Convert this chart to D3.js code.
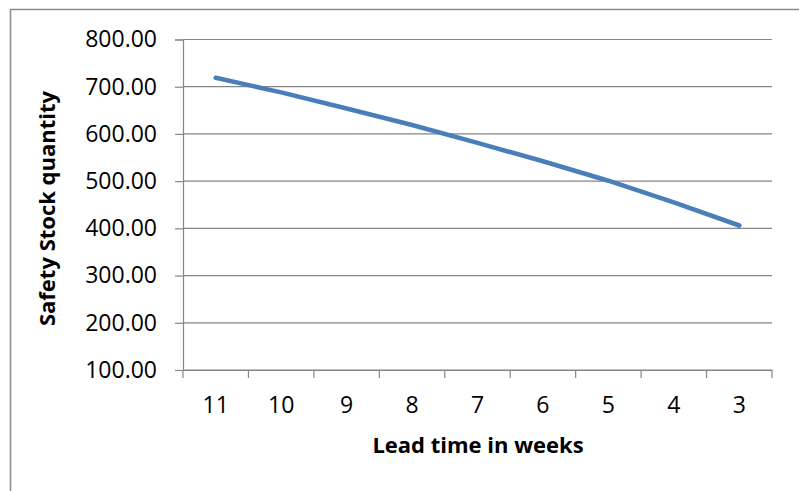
<!DOCTYPE html>
<html>
<head>
<meta charset="utf-8">
<script src="https://cdn.jsdelivr.net/npm/d3@7"></script>
<style>
  html, body { margin: 0; padding: 0; background: #ffffff; }
  svg { display: block; }
  text { font-family: "Open Sans", "Noto Sans", sans-serif; fill: #000; }
</style>
</head>
<body>
<svg id="chart" width="799" height="491"></svg>
<script>
// Lead time (weeks) on the category axis, in the order shown
const leadTimes = ["11", "10", "9", "8", "7", "6", "5", "4", "3"];
// Safety stock quantity for each lead time
const safetyStock = [719, 688, 654, 619, 581, 542, 501, 455, 406];
// Value-axis ticks
const yTicks = [100, 200, 300, 400, 500, 600, 700, 800];

const svg = d3.select("#chart");
const W = 799, H = 491;
const plot = { left: 183, right: 772, top: 39.5, bottom: 370 };
const gridColor = "#868686";

// Chart-area frame (continues past the visible canvas on the right and bottom)
svg.append("rect")
  .attr("x", 10.5).attr("y", 9.5)
  .attr("width", W + 20).attr("height", H + 20)
  .attr("fill", "#fff")
  .attr("stroke", "#8c8c8c")
  .attr("stroke-width", 1.5);

const x = d3.scaleBand().domain(leadTimes).range([plot.left, plot.right]).padding(0);
const y = d3.scaleLinear().domain([100, 800]).range([plot.bottom, plot.top]);

// Horizontal gridlines
svg.append("g")
  .selectAll("line")
  .data(yTicks)
  .join("line")
  .attr("x1", plot.left).attr("x2", plot.right)
  .attr("y1", d => y(d)).attr("y2", d => y(d))
  .attr("stroke", gridColor)
  .attr("stroke-width", 1.2);

// Value axis
const yAxis = svg.append("g")
  .attr("transform", `translate(${plot.left},0)`)
  .call(d3.axisLeft(y).tickValues(yTicks).tickFormat(d3.format(".2f")).tickSize(8).tickPadding(18));
yAxis.select(".domain").attr("stroke", gridColor).attr("stroke-width", 1.2);
yAxis.selectAll(".tick line").attr("stroke", gridColor).attr("stroke-width", 1.2);
yAxis.selectAll(".tick text").style("font-size", "23px").attr("fill", "#000");

// Category axis: labels centred in each band
const xAxis = svg.append("g")
  .attr("transform", `translate(0,${plot.bottom})`)
  .call(d3.axisBottom(x).tickSize(0).tickPadding(27));
xAxis.select(".domain").attr("stroke", gridColor).attr("stroke-width", 1.2);
xAxis.selectAll(".tick text").style("font-size", "23px").attr("fill", "#000");

// Tick marks on the band boundaries
const boundaries = leadTimes.map(c => x(c)).concat([x(leadTimes[leadTimes.length - 1]) + x.bandwidth()]);
svg.append("g")
  .selectAll("line")
  .data(boundaries)
  .join("line")
  .attr("x1", d => d).attr("x2", d => d)
  .attr("y1", plot.bottom).attr("y2", plot.bottom + 8)
  .attr("stroke", gridColor)
  .attr("stroke-width", 1.2);

// Series line
const line = d3.line()
  .x((d, i) => x(leadTimes[i]) + x.bandwidth() / 2)
  .y(d => y(d));
svg.append("path")
  .datum(safetyStock)
  .attr("d", line)
  .attr("fill", "none")
  .attr("stroke", "#4a7ebb")
  .attr("stroke-width", 4.6)
  .attr("stroke-linecap", "round")
  .attr("stroke-linejoin", "round");

// Axis titles
svg.append("text")
  .attr("x", 478).attr("y", 453)
  .attr("text-anchor", "middle")
  .style("font-size", "22px").style("font-weight", "bold")
  .text("Lead time in weeks");

svg.append("text")
  .attr("transform", "translate(55,208.5) rotate(-90)")
  .attr("text-anchor", "middle")
  .style("font-size", "22px").style("font-weight", "bold")
  .text("Safety Stock quantity");
</script>
</body>
</html>
